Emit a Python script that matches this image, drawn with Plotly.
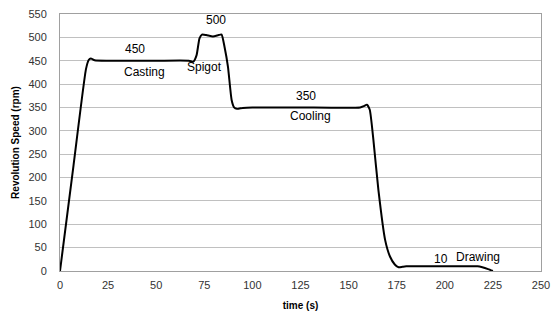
import plotly.graph_objects as go

time_s = [0, 7, 13.5, 15, 16, 18, 25, 50, 67, 69.3, 71, 72.5, 73.8, 76, 79.5, 82.5, 84, 85.5, 87.3, 89.2, 90.5, 92, 95, 100, 125, 156, 158, 159.5, 161, 162.9, 165.5, 169, 171.5, 174, 176, 178, 180, 200, 217, 219.5, 222.5, 225]
speed = [0, 225, 432, 452, 455, 451, 450, 450, 450, 448, 462, 498, 506, 505, 502, 505, 506, 480, 437, 366, 350, 347, 349, 350, 350, 350, 353, 356, 345, 280, 173, 66, 31, 14, 8, 9, 10, 10, 10, 8, 4, 0]

labels = ["450", "Casting", "500", "Spigot", "350", "Cooling", "10", "Drawing"]
label_t = [39, 43.7, 81, 75, 128, 130, 198, 217]
label_v = [476, 425, 537, 436, 374, 332, 26, 31]

x_ticks = list(range(0, 251, 25))
y_ticks = list(range(0, 551, 50))

fig = go.Figure()
fig.add_trace(go.Scatter(x=time_s, y=speed, mode="lines",
                         line=dict(color="black", width=2, shape="spline", smoothing=0.5),
                         showlegend=False, hoverinfo="skip"))

for txt, tx, ty in zip(labels, label_t, label_v):
    fig.add_annotation(x=tx, y=ty, text=txt, showarrow=False,
                       font=dict(family="Liberation Sans, Arial", size=12, color="black"))

fig.update_layout(
    width=553, height=324,
    margin=dict(l=60, r=12, t=14, b=53),
    paper_bgcolor="white", plot_bgcolor="white",
    font=dict(family="Liberation Sans, Arial", size=11, color="#333"),
)
fig.update_xaxes(range=[0, 250], tickvals=x_ticks, showgrid=False, zeroline=False,
                 showline=True, linecolor="#a0a0a0", linewidth=1, mirror=True,
                 ticks="", ticklabelstandoff=4, automargin=False,
                 title=dict(text="<b>time (s)</b>", font=dict(size=10, color="black"), standoff=11))
fig.update_yaxes(range=[0, 550], tickvals=y_ticks, showgrid=True, gridcolor="#c0c0c0",
                 gridwidth=1, zeroline=False,
                 showline=True, linecolor="#a0a0a0", linewidth=1, mirror=True,
                 ticks="", ticklabelstandoff=10, automargin=False,
                 title=dict(text="<b>Revolution Speed (rpm)</b>", font=dict(size=10, color="black"), standoff=6))

fig.write_html("out.html")
